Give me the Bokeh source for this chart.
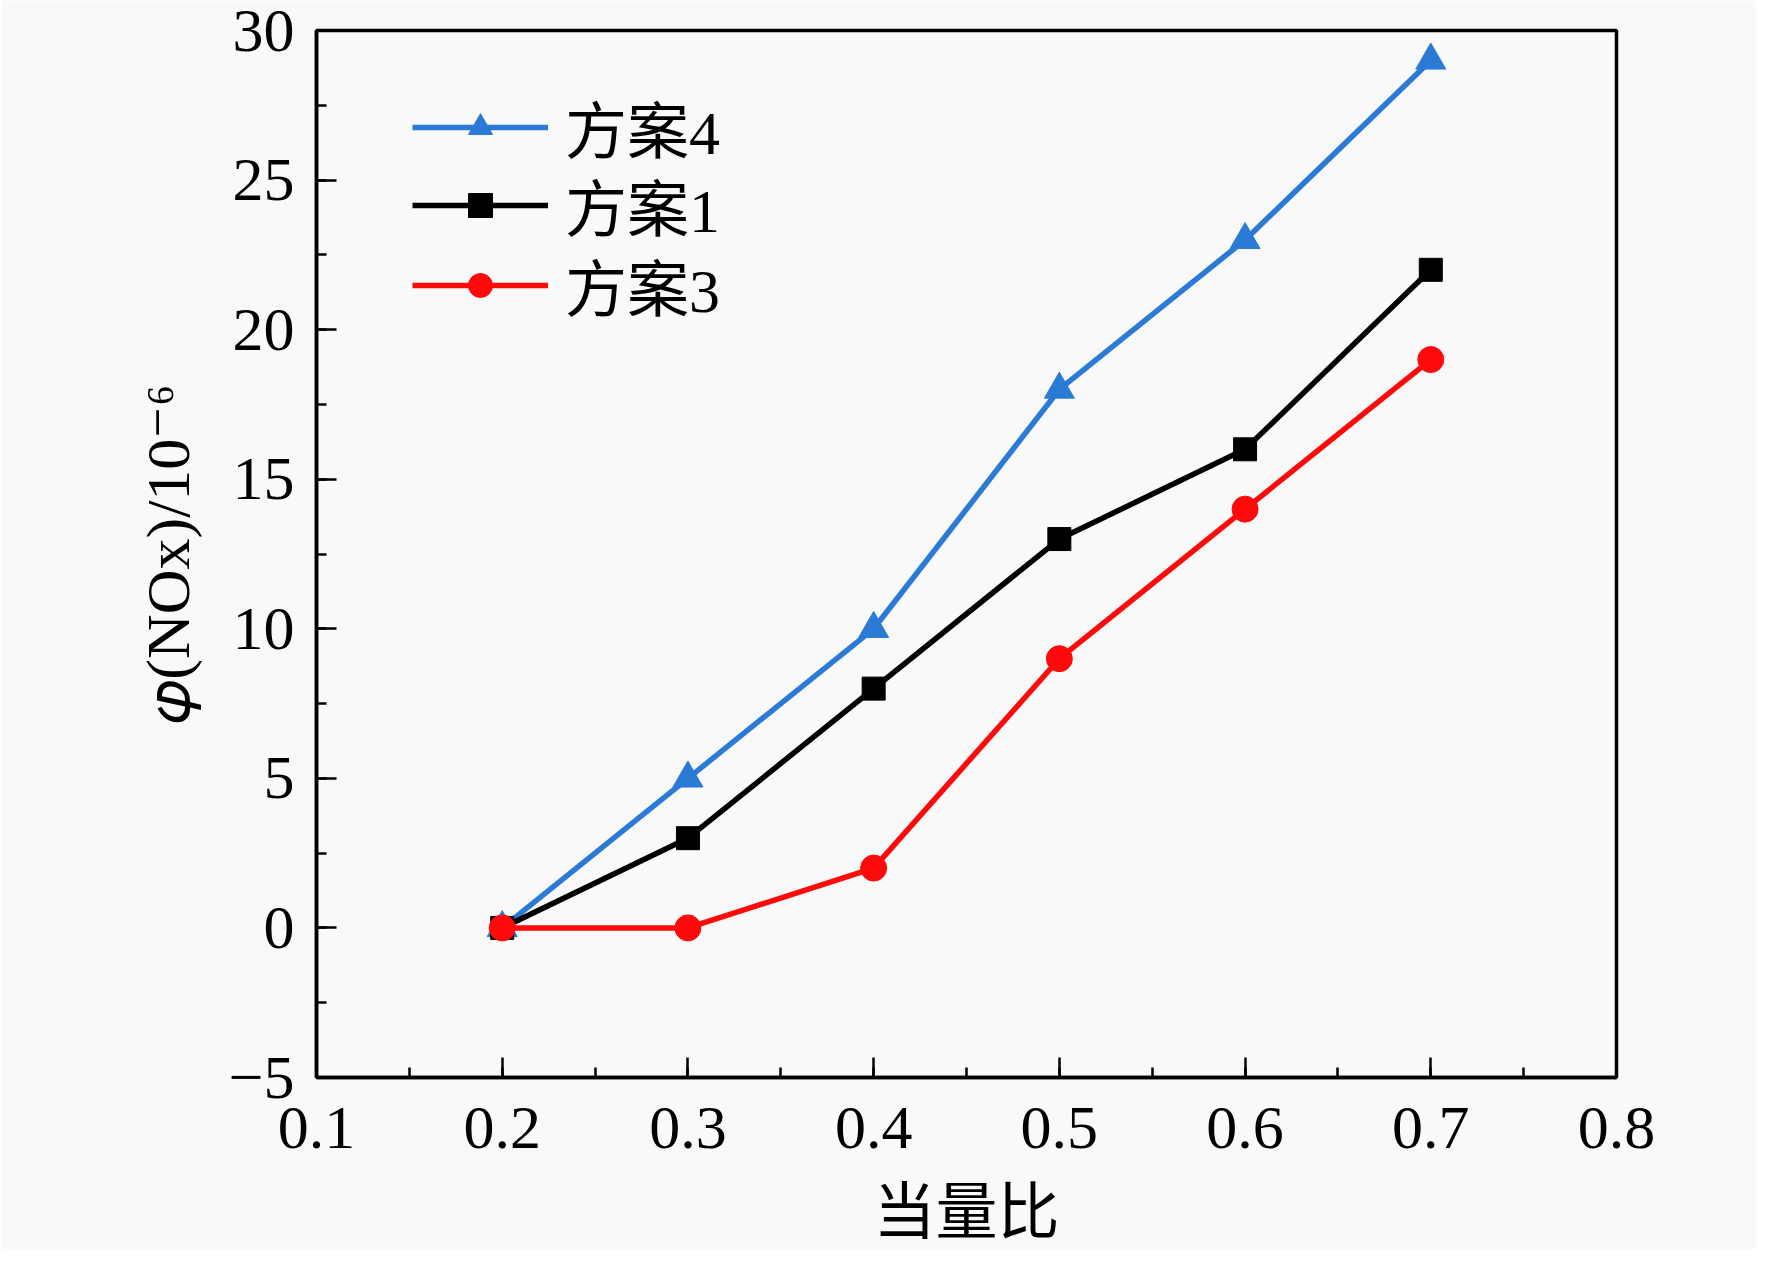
from bokeh.plotting import figure
from bokeh.models import Range1d, SingleIntervalTicker, Legend, LegendItem
from bokeh.embed import file_html
from bokeh.resources import INLINE

# data
ratio = [0.2, 0.3, 0.4, 0.5, 0.6, 0.7]
scheme4 = [0, 5, 10, 18, 23, 29]
scheme1 = [0, 3, 8, 13, 16, 22]
scheme3 = [0, 0, 2, 9, 14, 19]
series_names = ["方案4", "方案1", "方案3"]
x_title = "当量比"
y_title = "𝜑(NOx)/10⁻⁶"

SERIF = "'Liberation Serif', 'DejaVu Serif', 'Noto Sans CJK SC'"
BG = "#f9f9f9"

p = figure(width=1756, height=1245, frame_width=1300, frame_height=1047,
           min_border_left=316, min_border_top=30, min_border_right=140, min_border_bottom=168,
           x_range=Range1d(0.1, 0.8), y_range=Range1d(-5, 30),
           output_backend="svg", toolbar_location=None,
           background_fill_color=BG, border_fill_color=BG)

p.xgrid.visible = False
p.ygrid.visible = False
p.outline_line_color = "black"
p.outline_line_width = 3.5

for ax in (p.xaxis[0], p.yaxis[0]):
    ax.axis_line_width = 3.5
    ax.axis_line_color = "black"
    ax.major_tick_in = 20
    ax.major_tick_out = 0
    ax.minor_tick_in = 10
    ax.minor_tick_out = 0
    ax.major_tick_line_width = 2.5
    ax.minor_tick_line_width = 2.5
    ax.major_label_text_font = SERIF
    ax.major_label_text_font_size = "62px"
    ax.major_label_text_color = "black"
    ax.axis_label_text_font = SERIF
    ax.axis_label_text_font_size = "62px"
    ax.axis_label_text_font_style = "normal"
    ax.axis_label_text_color = "black"

p.xaxis[0].ticker = SingleIntervalTicker(interval=0.1, num_minor_ticks=2)
p.yaxis[0].ticker = SingleIntervalTicker(interval=5, num_minor_ticks=2)
p.yaxis[0].major_label_overrides = {-5: "−5"}
p.xaxis[0].major_label_standoff = 30
p.yaxis[0].major_label_standoff = 22
p.xaxis[0].axis_label = x_title
p.yaxis[0].axis_label = y_title
p.xaxis[0].axis_label_standoff = 28
p.yaxis[0].axis_label_standoff = 24

blue = "#2a7ad6"
red = "#ff0a0a"
black = "black"

l4 = p.line(ratio, scheme4, line_color=blue, line_width=5.5)
m4 = p.scatter(ratio, scheme4, marker="triangle", size=30, fill_color=blue, line_color=blue)
l1 = p.line(ratio, scheme1, line_color=black, line_width=5.5)
m1 = p.scatter(ratio, scheme1, marker="square", size=23, fill_color=black, line_color=black)
l3 = p.line(ratio, scheme3, line_color=red, line_width=5.5)
m3 = p.scatter(ratio, scheme3, marker="circle", size=26, fill_color=red, line_color=red)

entries = [
    (series_names[0], [l4, m4], (96, 905)),
    (series_names[1], [l1, m1], (96, 827)),
    (series_names[2], [l3, m3], (96, 747)),
]
for label, rends, loc in entries:
    lg = Legend(items=[LegendItem(label=label, renderers=rends)], location=loc)
    lg.border_line_color = None
    lg.background_fill_alpha = 0
    lg.padding = 0
    lg.margin = 0
    lg.spacing = 0
    lg.glyph_width = 136
    lg.glyph_height = 60
    lg.label_standoff = 17
    lg.label_text_font = SERIF
    lg.label_text_font_size = "62px"
    lg.label_text_color = "black"
    lg.label_height = 60
    p.add_layout(lg, "center")

open("out.html", "w").write(file_html(p, INLINE))
